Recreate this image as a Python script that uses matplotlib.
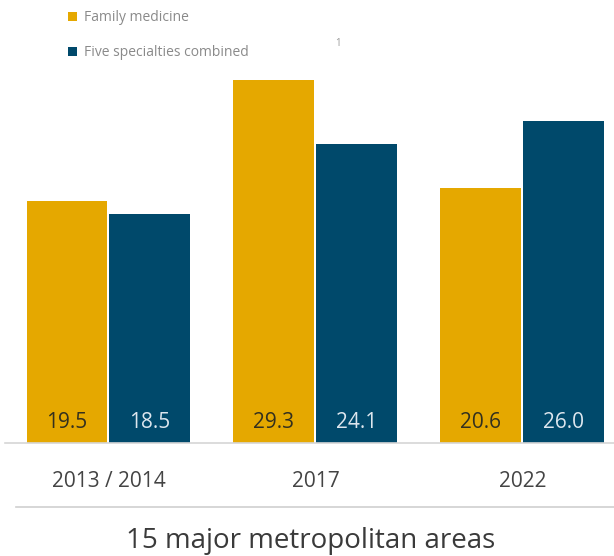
import matplotlib
matplotlib.use("Agg")
import matplotlib.pyplot as plt
from matplotlib.lines import Line2D
import numpy as np

# Data
periods = ["2013 / 2014", "2017", "2022"]
family_medicine = [19.5, 29.3, 20.6]
five_specialties = [18.5, 24.1, 26.0]
series_names = ["Family medicine", "Five specialties combined"]

gold = "#E5A800"
navy = "#00496B"

plt.rcParams['font.family'] = ['Open Sans', 'DejaVu Sans']

fig = plt.figure(figsize=(6.14, 5.56), dpi=100)
ax = fig.add_axes([5 / 614, 1 - 443 / 556, 1 - 5 / 614, 443 / 556])

x = np.arange(len(periods))
w = 81 / 207
off = 41.5 / 207
b1 = ax.bar(x - off, family_medicine, w, color=gold, label=series_names[0])
b2 = ax.bar(x + off, five_specialties, w, color=navy, label=series_names[1])

# value labels inside the bars near the bottom
for xi, v in zip(x - off, family_medicine):
    ax.text(xi, 1.65, f"{v:.1f}", ha="center", va="center", fontsize=15, color="#33301f")
for xi, v in zip(x + off, five_specialties):
    ax.text(xi, 1.65, f"{v:.1f}", ha="center", va="center", fontsize=15, color="#dde6ee")

ax.set_xlim((5 - 108.5) / 207, (614 - 108.5) / 207)
ax.set_ylim(0, 443 / 12.389)

ax.set_xticks(x)
ax.set_xticklabels(periods, fontsize=15, color="#444444")
ax.tick_params(axis="x", length=0, pad=20)
ax.set_yticks([])
for s in ["top", "right", "left"]:
    ax.spines[s].set_visible(False)
ax.spines["bottom"].set_color("#d6d6d6")
ax.spines["bottom"].set_linewidth(1.2)

# legend top left
leg = fig.legend(handles=[b1, b2], loc="upper left", bbox_to_anchor=(0.09, 1.004),
                 frameon=False, fontsize=10, handlelength=0.65, handleheight=0.65,
                 handletextpad=0.5, labelspacing=1.45, labelcolor="#8a8a8a")
fig.text(338 / 614, 1 - 44 / 556, "1", fontsize=7, color="#999999", ha="center", va="center")

# separator line and title
fig.add_artist(Line2D([16 / 614, 1.0], [1 - 507 / 556] * 2, color="#cfcfcf", lw=1.2))
fig.text(311 / 614, 1 - 541 / 556, "15 major metropolitan areas", fontsize=20,
         color="#3a3a3a", ha="center", va="center")

fig.savefig("out.png", dpi=100)
